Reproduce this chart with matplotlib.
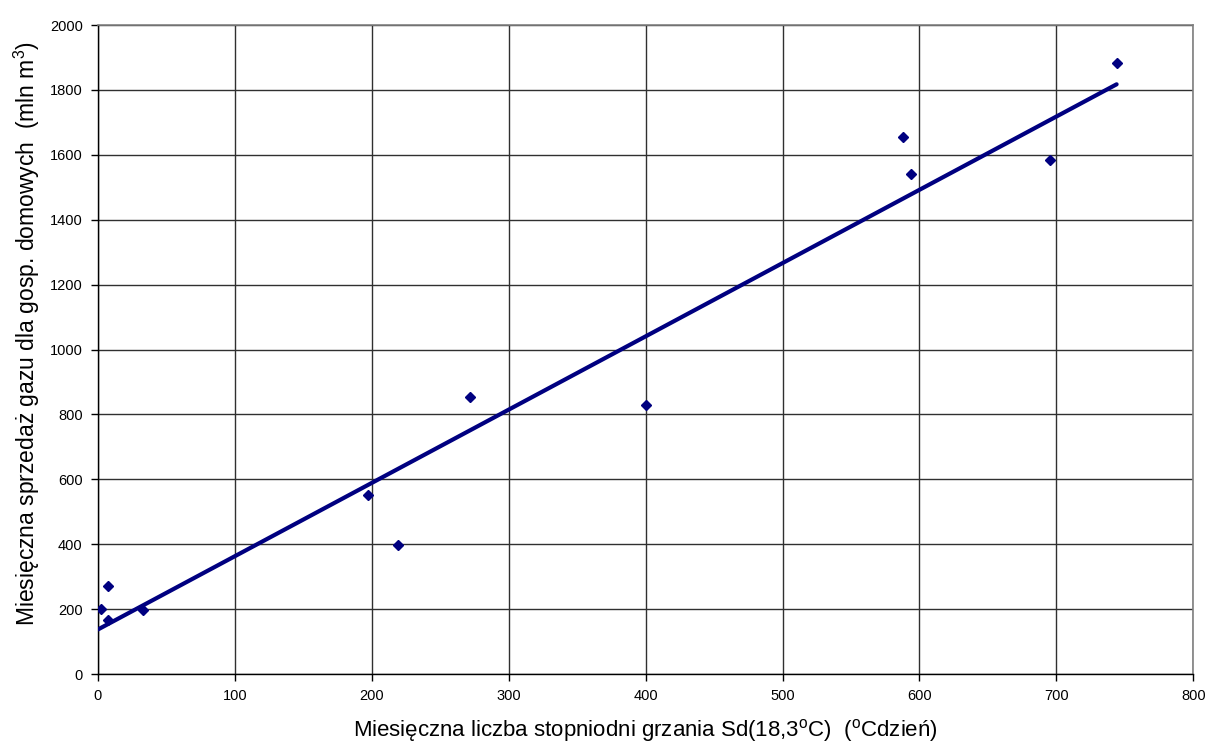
import numpy as np
import matplotlib
matplotlib.use("Agg")
import matplotlib.pyplot as plt

plt.rcParams["font.family"] = ["Liberation Sans", "DejaVu Sans"]
plt.rcParams["mathtext.fontset"] = "custom"
plt.rcParams["mathtext.rm"] = "Liberation Sans"
plt.rcParams["mathtext.it"] = "Liberation Sans"

# monthly heating degree-days vs household gas sales
degree_days = [2, 7, 7, 33, 197, 219, 272, 400, 588, 594, 695, 744]
gas_sales = [200, 272, 168, 196, 551, 399, 854, 828, 1655, 1542, 1585, 1883]

# linear trend line
slope, intercept = np.polyfit(degree_days, gas_sales, 1)
trend_x = np.array([0, max(degree_days)])
trend_y = intercept + slope * trend_x

navy = "#000080"

fig = plt.figure(figsize=(12.09, 7.47), dpi=100)
ax = fig.add_axes([0.081, 0.0977, 0.906, 0.8688])

ax.plot(trend_x, trend_y, color=navy, linewidth=3, solid_capstyle="round", zorder=3)
ax.plot(degree_days, gas_sales, linestyle="none", marker="D", markersize=5,
        color=navy, zorder=4)

ax.set_xlim(0, 800)
ax.set_ylim(0, 2000)
ax.set_xticks(range(0, 801, 100))
ax.set_yticks(range(0, 2001, 200))
ax.grid(True, color="#303030", linewidth=1)
ax.set_axisbelow(True)

for side in ["left", "bottom"]:
    ax.spines[side].set_color("black")
    ax.spines[side].set_linewidth(1)
for side in ["top", "right"]:
    ax.spines[side].set_color("#808080")
    ax.spines[side].set_linewidth(1.2)

ax.tick_params(direction="out", length=5, width=1, labelsize=10.5, color="black")
ax.tick_params(axis="x", pad=6)
ax.tick_params(axis="y", pad=6)

ax.set_xlabel("Miesięczna liczba stopniodni grzania Sd(18,3$^{\\mathrm{o}}$C)  ($^{\\mathrm{o}}$Cdzień)",
              fontsize=16, labelpad=10)
ax.set_ylabel("Miesięczna sprzedaż gazu dla gosp. domowych  (mln m$^{3}$)",
              fontsize=16.5, labelpad=8)
ax.yaxis.set_label_coords(-0.051, 0.525)

fig.savefig("out.png", dpi=100)
